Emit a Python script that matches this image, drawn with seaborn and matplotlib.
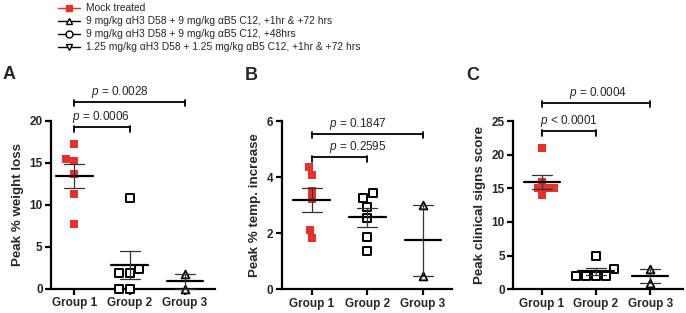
import numpy as np
import pandas as pd
import matplotlib
matplotlib.use("Agg")
import matplotlib.pyplot as plt
from matplotlib.lines import Line2D
import seaborn as sns

groups = ["Group 1", "Group 2", "Group 3"]

# Panel A: peak % weight loss
a_g1 = [17.2, 15.4, 15.2, 13.7, 11.3, 7.7]
a_g2 = [10.8, 2.3, 1.9, 1.9, 0.0, 0.0]
a_g3 = [1.8, 0.0]
# Panel B: peak % temperature increase
b_g1 = [4.35, 4.09, 3.5, 3.22, 2.11, 1.84]
b_g2 = [3.42, 3.27, 2.95, 2.54, 1.85, 1.35]
b_g3 = [3.0, 0.48]
# Panel C: peak clinical signs score
c_g1 = [21, 16, 15, 15, 15, 14]
c_g2 = [5, 3, 2, 2, 2, 2]
c_g3 = [3, 1]

ylabels = ["Peak % weight loss", "Peak % temp. increase", "Peak clinical signs score"]
panel_letters = ["A", "B", "C"]
yticks_list = [[0, 5, 10, 15, 20], [0, 2, 4, 6], [0, 5, 10, 15, 20, 25]]
ylims = [(0, 20), (0, 6), (0, 25)]
# p-value brackets: (from group, to group, bracket y, label, label x)
brackets = [
    [(0, 1, 19.2, "= 0.0006", 0.48), (0, 2, 22.2, "= 0.0028", 0.83)],
    [(0, 1, 4.7, "= 0.2595", 0.82), (0, 2, 5.54, "= 0.1847", 0.82)],
    [(0, 1, 23.45, "< 0.0001", 0.5), (0, 2, 27.7, "= 0.0004", 1.04)],
]
legend_labels = [
    "Mock treated",
    "9 mg/kg \u03b1H3 D58 + 9 mg/kg \u03b1B5 C12, +1hr & +72 hrs",
    "9 mg/kg \u03b1H3 D58 + 9 mg/kg \u03b1B5 C12, +48hrs",
    "1.25 mg/kg \u03b1H3 D58 + 1.25 mg/kg \u03b1B5 C12, +1hr & +72 hrs",
]

RED = "#e5322b"
sns.set_theme(style="ticks")
plt.rcParams["font.family"] = ["Liberation Sans", "DejaVu Sans"]
plt.rcParams["mathtext.fontset"] = "custom"
plt.rcParams["mathtext.it"] = "Liberation Sans:italic"
plt.rcParams["mathtext.rm"] = "Liberation Sans"

fig = plt.figure(figsize=(6.86, 3.13), dpi=100)
axes_pos = [
    [0.0743, 0.0776, 0.239, 0.537],
    [0.4106, 0.0757, 0.249, 0.5377],
    [0.748, 0.0757, 0.247, 0.5377],
]
xlims = [(-0.42, 2.54), (-0.54, 2.53), (-0.53, 2.6)]
letter_pos = [(0.004, 0.748), (0.357, 0.744), (0.68, 0.744)]

data_sets = [(a_g1, a_g2, a_g3), (b_g1, b_g2, b_g3), (c_g1, c_g2, c_g3)]

for i, (g1, g2, g3) in enumerate(data_sets):
    ax = fig.add_axes(axes_pos[i])
    df = pd.DataFrame({
        "group": ["Group 1"] * len(g1) + ["Group 2"] * len(g2) + ["Group 3"] * len(g3),
        "value": list(g1) + list(g2) + list(g3),
    })
    styles = [
        dict(marker="s", color=RED, edgecolor=RED, linewidth=0),
        dict(marker="s", color="white", edgecolor="black", linewidth=1.4),
        dict(marker="^", color="white", edgecolor="black", linewidth=1.3),
    ]
    for gi, g in enumerate(groups):
        sub = df[df["group"] == g]
        sns.swarmplot(data=sub, x="group", y="value", order=groups, ax=ax,
                      size=5.6, zorder=3, clip_on=False, warn_thresh=1, **styles[gi])
    # mean and SEM
    for gi, g in enumerate(groups):
        vals = np.array(df[df["group"] == g]["value"], dtype=float)
        m = vals.mean()
        sem = vals.std(ddof=1) / np.sqrt(len(vals))
        ax.plot([gi - 0.33, gi + 0.33], [m, m], color="black", lw=1.6, zorder=4, clip_on=False)
        ax.plot([gi, gi], [m - sem, m + sem], color="#333333", lw=0.9, zorder=4, clip_on=False)
        for yy in (m - sem, m + sem):
            ax.plot([gi - 0.18, gi + 0.18], [yy, yy], color="#333333", lw=0.9, zorder=4, clip_on=False)
    ax.set_xlim(*xlims[i])
    ax.set_ylim(*ylims[i])
    ax.set_yticks(yticks_list[i])
    ax.set_xlabel("")
    ax.set_ylabel(ylabels[i], fontsize=9.6, fontweight="bold", labelpad=4)
    for sp in ["top", "right"]:
        ax.spines[sp].set_visible(False)
    for sp in ["left", "bottom"]:
        ax.spines[sp].set_linewidth(1.6)
        ax.spines[sp].set_color("black")
    ax.tick_params(axis="both", width=1.6, length=4, color="black", labelsize=8.5, pad=2)
    for lab in ax.get_xticklabels() + ax.get_yticklabels():
        lab.set_fontweight("bold")
    ax.set_facecolor("none")
    # brackets
    yr = ylims[i][1] - ylims[i][0]
    for (ga, gb, yb, lab, tx) in brackets[i]:
        ax.plot([ga, gb], [yb, yb], color="black", lw=1.3, clip_on=False)
        for gx in (ga, gb):
            ax.plot([gx, gx], [yb - 0.025 * yr, yb + 0.01 * yr], color="black", lw=1.3, clip_on=False)
        ax.text(tx, yb + 0.06 * yr, "$\\it{p}$ " + lab, ha="center", va="center", fontsize=8.5)
    fig.text(letter_pos[i][0], letter_pos[i][1], panel_letters[i], fontsize=13, fontweight="bold",
             ha="left", va="baseline")

handles = [
    Line2D([], [], color=RED, marker="s", markersize=5, lw=1, markerfacecolor=RED, markeredgecolor=RED),
    Line2D([], [], color="black", marker="^", markersize=5, lw=1, markerfacecolor="white", markeredgecolor="black"),
    Line2D([], [], color="black", marker="o", markersize=5, lw=1, markerfacecolor="white", markeredgecolor="black"),
    Line2D([], [], color="black", marker="v", markersize=5, lw=1, markerfacecolor="white", markeredgecolor="black"),
]
fig.legend(handles, legend_labels, loc="upper left", bbox_to_anchor=(0.078, 1.003), frameon=False,
           fontsize=7.4, handlelength=2.2, handletextpad=0.6, labelspacing=0.3, borderaxespad=0)

fig.savefig("out.png", dpi=100)
